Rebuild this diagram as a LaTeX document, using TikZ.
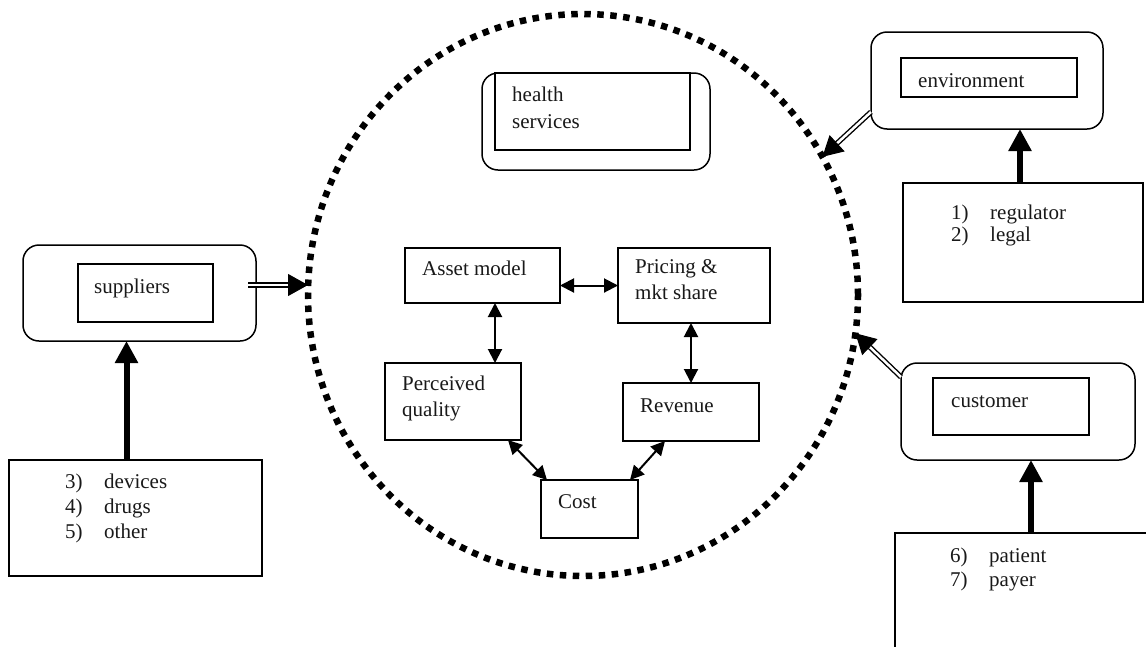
\documentclass[tikz,border=0pt]{standalone}
\usepackage{fontspec}
\setmainfont{Liberation Serif}
\usetikzlibrary{arrows.meta,shapes.geometric,calc}
\begin{document}
\begin{tikzpicture}[x=1pt,y=-1pt,
  box/.style={draw=black, line width=1.5pt, inner sep=0pt, outer sep=0pt},
  rbox/.style={box, rounded corners=16pt},
  txt/.style={anchor=base west, inner sep=0pt, font=\fontsize{21}{25}\selectfont, text=black!90},
  thickarrow/.style={line width=6pt, -{Triangle[length=22pt,width=22pt]}},
  dblline/.style={double=white, double distance=2.5pt, line width=1.4pt, shorten >=16pt},
  dbltip/.style={line width=1pt, -{Triangle[length=20pt,width=22pt]}},
  twoway/.style={line width=2pt, {Triangle[length=14pt,width=14pt]}-{Triangle[length=14pt,width=14pt]}},
  hubstyle/.style={draw=black, ellipse, line width=6.5pt, dash pattern=on 6.5pt off 6.5pt, inner sep=0pt, outer sep=0pt}
]
\useasboundingbox[fill=white] (0,0) rectangle (1146,646);

% central dotted circle
\node[hubstyle, minimum width=550pt, minimum height=562pt] (hub) at (583,295) {};

% health services
\node[rbox, minimum width=228pt, minimum height=97pt] (hsout) at (596,121.5) {};
\node[box, minimum width=195pt, minimum height=77pt] (hsin) at (592.5,111.5) {};
\node[txt] (hs1) at (512,101) {health};
\node[txt] (hs2) at (512,128) {services};

% environment
\node[rbox, minimum width=232pt, minimum height=97pt] (envout) at (987,80.5) {};
\node[box, minimum width=176pt, minimum height=39pt] (envin) at (989,77.5) {};
\node[txt] (envt) at (918,87) {environment};
\node[box, minimum width=240pt, minimum height=119pt] (envlist) at (1023,242.5) {};
\node[txt] (env1) at (951,219) {\makebox[39pt][l]{1)}regulator};
\node[txt] (env2) at (951,241) {\makebox[39pt][l]{2)}legal};

% suppliers
\node[rbox, minimum width=233pt, minimum height=96pt] (supout) at (139.5,293) {};
\node[box, minimum width=135pt, minimum height=58pt] (supin) at (145.5,293) {};
\node[txt] (supt) at (94,293) {suppliers};
\node[box, minimum width=253pt, minimum height=116pt] (suplist) at (135.5,518) {};
\node[txt] (sup1) at (65,488) {\makebox[39pt][l]{3)}devices};
\node[txt] (sup2) at (65,513) {\makebox[39pt][l]{4)}drugs};
\node[txt] (sup3) at (65,538) {\makebox[39pt][l]{5)}other};

% customer
\node[rbox, minimum width=234pt, minimum height=97pt] (custout) at (1018,411.5) {};
\node[box, minimum width=156pt, minimum height=57pt] (custin) at (1011,406.5) {};
\node[txt] (custt) at (951,407) {customer};
\node[box, minimum width=255pt, minimum height=127pt] (custlist) at (1022.5,596.5) {};
\node[txt] (cust1) at (950,562) {\makebox[39pt][l]{6)}patient};
\node[txt] (cust2) at (950,586) {\makebox[39pt][l]{7)}payer};

% inner model
\node[box, minimum width=155pt, minimum height=55pt] (asset) at (482.5,275.5) {};
\node[txt] (assett) at (422,275) {Asset model};
\node[box, minimum width=152pt, minimum height=75pt] (pricing) at (694,285.5) {};
\node[txt] (pr1) at (635,273) {Pricing \&};
\node[txt] (pr2) at (635,299) {mkt share};
\node[box, minimum width=136pt, minimum height=77pt] (perc) at (453,401.5) {};
\node[txt] (pq1) at (402,390) {Perceived};
\node[txt] (pq2) at (402,416) {quality};
\node[box, minimum width=136pt, minimum height=58pt] (rev) at (691,412) {};
\node[txt] (revt) at (640,412) {Revenue};
\node[box, minimum width=97pt, minimum height=58pt] (cost) at (589.5,509) {};
\node[txt] (costt) at (558,508) {Cost};

% inner connectors
\draw[twoway] (asset.east |- pricing.west) -- (pricing.west);
\draw[twoway] ([xshift=12.5pt]asset.south) -- ([xshift=12.5pt]asset.south |- perc.north);
\draw[twoway] (pricing.south -| rev.north) -- (rev.north);
\draw[twoway] ([xshift=-13pt]perc.south east) -- ([xshift=6pt]cost.north west);
\draw[twoway] ([xshift=42pt]rev.south west) -- ([xshift=-8pt]cost.north east);

% thick arrows
\draw[thickarrow] ([xshift=-9pt]suplist.north) -- ([xshift=-9pt]suplist.north |- supout.south);
\draw[thickarrow] ([xshift=-3pt]envlist.north) -- ([xshift=-3pt]envlist.north |- envout.south);
\draw[thickarrow] ([xshift=8.5pt]custlist.north) -- ([xshift=8.5pt]custlist.north |- custout.south);

% double arrows into the hub
\coordinate (supstart) at ([xshift=-8pt,yshift=8pt]supout.east);
\coordinate (supend) at (hub.west |- 0,285);
\draw[dblline] (supstart) -- (supend);
\draw[dbltip] ($(supend)!18pt!(supstart)$) -- (supend);

\coordinate (envstart) at ([yshift=17pt]envout.south west);
\coordinate (envend) at (hub.30);
\draw[dblline] (envstart) -- (envend);
\draw[dbltip] ($(envend)!18pt!(envstart)$) -- (envend);

\coordinate (custstart) at ([yshift=-14pt]custout.north west);
\coordinate (custend) at (hub.-8);
\draw[dblline] (custstart) -- (custend);
\draw[dbltip] ($(custend)!18pt!(custstart)$) -- (custend);
\end{tikzpicture}
\end{document}
